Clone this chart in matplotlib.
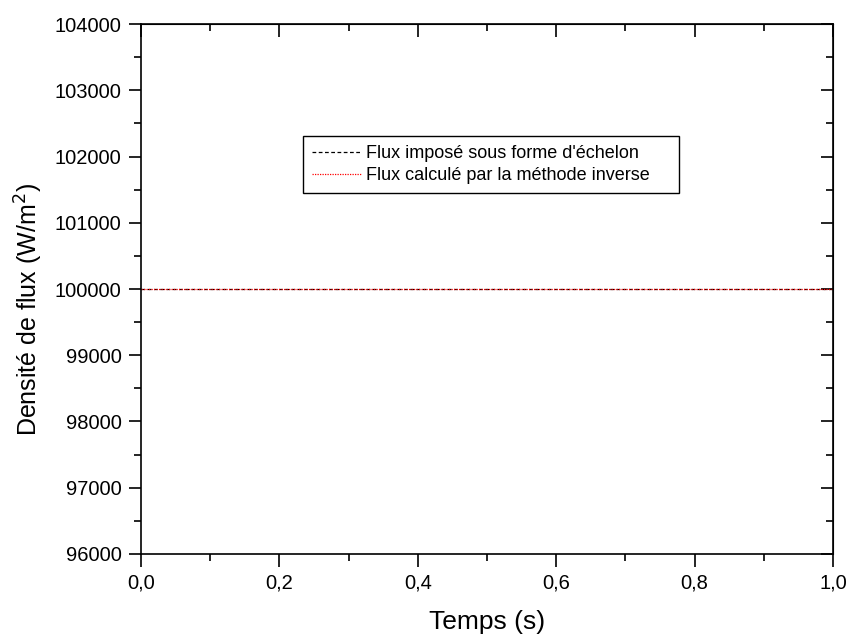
import numpy as np
import matplotlib.pyplot as plt
from matplotlib.ticker import MultipleLocator, FuncFormatter

plt.rcParams['font.family'] = ['Liberation Sans', 'DejaVu Sans']

# data
temps = [0.0, 1.0]
flux_impose = [100000, 100000]
flux_calcule = [100000, 100000]

fig = plt.figure(figsize=(8.51, 6.34), dpi=100)
ax = fig.add_axes([0.1657, 0.1262, 0.8132, 0.8359])

ax.plot(temps, flux_impose, color='black', linestyle=(0, (3, 2)), linewidth=0.9,
        label="Flux imposé sous forme d'échelon")
ax.plot(temps, flux_calcule, color='red', linestyle=(0, (1, 1)), linewidth=0.9,
        label="Flux calculé par la méthode inverse    ")

ax.set_xlim(0, 1)
ax.set_ylim(96000, 104000)
ax.xaxis.set_major_locator(MultipleLocator(0.2))
ax.xaxis.set_minor_locator(MultipleLocator(0.1))
ax.yaxis.set_major_locator(MultipleLocator(1000))
ax.yaxis.set_minor_locator(MultipleLocator(500))
ax.xaxis.set_major_formatter(FuncFormatter(lambda v, p: f'{v:.1f}'.replace('.', ',')))
ax.yaxis.set_major_formatter(FuncFormatter(lambda v, p: f'{v:.0f}'))

ax.tick_params(axis='both', which='both', direction='out', labelsize=14.5, width=1.2)
ax.tick_params(which='major', length=9, pad=5)
ax.tick_params(which='minor', length=5)
for s in ax.spines.values():
    s.set_linewidth(1.2)

# inward ticks on right and top
axr = ax.secondary_yaxis('right')
axr.yaxis.set_major_locator(MultipleLocator(1000))
axr.yaxis.set_minor_locator(MultipleLocator(500))
axr.tick_params(which='both', direction='in', labelright=False, width=1.2)
axr.tick_params(which='major', length=9)
axr.tick_params(which='minor', length=5)
axt = ax.secondary_xaxis('top')
axt.xaxis.set_major_locator(MultipleLocator(0.2))
axt.xaxis.set_minor_locator(MultipleLocator(0.1))
axt.tick_params(which='both', direction='in', labeltop=False, width=1.2)
axt.tick_params(which='major', length=9)
axt.tick_params(which='minor', length=5)

ax.set_xlabel('Temps (s)', fontsize=19)
ax.xaxis.set_label_coords(0.5, -0.106)
ax.set_ylabel('Densité de flux (W/m$^2$)', fontsize=18)
ax.yaxis.set_label_coords(-0.139, 0.462)

leg = ax.legend(loc='upper left', bbox_to_anchor=(0.234, 0.789), fontsize=13,
                frameon=True, fancybox=False, edgecolor='black', framealpha=1,
                handlelength=2.7, handletextpad=0.3, borderpad=0.5, labelspacing=0.3,
                borderaxespad=0)
leg.get_frame().set_linewidth(1.0)

fig.savefig('out.png', dpi=100)
